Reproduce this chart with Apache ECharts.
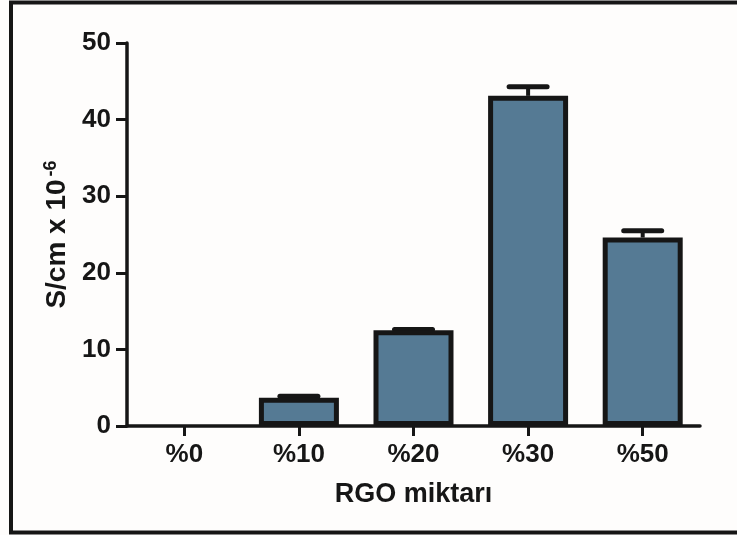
<!DOCTYPE html>
<html>
<head>
<meta charset="utf-8">
<script src="https://cdn.jsdelivr.net/npm/echarts@6/dist/echarts.min.js"></script>
<style>
html,body{margin:0;padding:0;background:#fefdfc;}
#c{width:737px;height:535px;}
</style>
</head>
<body>
<div id="c"></div>
<script>
const categories = ['%0', '%10', '%20', '%30', '%50'];
const values = [0, 3.7, 12.5, 43.1, 24.6];
const upperErr = [0, 3.9, 12.6, 44.3, 25.5];
const yTicks = [0, 10, 20, 30, 40, 50];

const FONT = '"Liberation Sans", Arial, sans-serif';
const INK = '#161616';

const chart = echarts.init(document.getElementById('c'), null, {renderer: 'canvas'});

const option = {
  backgroundColor: '#fefdfc',
  animation: false,
  grid: {left: 127, right: 37, top: 43, bottom: 109},
  graphic: [{
    type: 'rect',
    shape: {x: 11, y: 2.5, width: 740, height: 530},
    style: {fill: 'none', stroke: INK, lineWidth: 4},
    silent: true
  }],
  xAxis: {
    type: 'category',
    data: categories,
    boundaryGap: true,
    name: 'RGO miktarı',
    nameLocation: 'middle',
    nameGap: 55,
    nameTextStyle: {fontFamily: FONT, fontWeight: 'bold', fontSize: 27, color: INK},
    axisLine: {lineStyle: {color: INK, width: 3.5}},
    axisTick: {show: true, alignWithLabel: true, length: 10, lineStyle: {color: INK, width: 3}},
    axisLabel: {fontFamily: FONT, fontWeight: 'bold', fontSize: 26, color: INK, margin: 16}
  },
  yAxis: {
    type: 'value',
    min: yTicks[0],
    max: yTicks[yTicks.length - 1],
    interval: 10,
    name: 'S/cm x 10{sup|-6}',
    nameLocation: 'middle',
    nameRotate: 90,
    nameGap: 54,
    nameTextStyle: {
      fontFamily: FONT, fontWeight: 'bold', fontSize: 28, color: INK,
      rich: {sup: {fontFamily: FONT, fontWeight: 'bold', fontSize: 18, color: INK, verticalAlign: 'top', padding: [0, 0, 12, 3]}}
    },
    axisLine: {show: true, lineStyle: {color: INK, width: 3.5}},
    axisTick: {show: true, length: 11, lineStyle: {color: INK, width: 3}},
    splitLine: {show: false},
    axisLabel: {fontFamily: FONT, fontWeight: 'bold', fontSize: 26, color: INK, margin: 16}
  },
  series: [{
    type: 'bar',
    data: values.map(v => v === 0 ? {value: v, itemStyle: {borderWidth: 0}} : v),
    barWidth: 80,
    itemStyle: {color: '#557a94', borderColor: INK, borderWidth: 5},
    z: 3
  }, {
    type: 'custom',
    z: 2,
    data: categories.map((c, i) => [i, values[i], upperErr[i]]),
    renderItem: function (params, api) {
      const i = api.value(0);
      const v = api.value(1);
      const u = api.value(2);
      if (u <= v) return null;
      const p0 = api.coord([i, v]);
      const p1 = api.coord([i, u]);
      const half = 19;
      return {
        type: 'group',
        children: [{
          type: 'line',
          shape: {x1: p0[0], y1: p0[1], x2: p1[0], y2: p1[1]},
          style: {stroke: INK, lineWidth: 4}
        }, {
          type: 'line',
          shape: {x1: p1[0] - half, y1: p1[1], x2: p1[0] + half, y2: p1[1]},
          style: {stroke: INK, lineWidth: 5, lineCap: 'round'}
        }]
      };
    }
  }]
};
chart.setOption(option);
</script>
</body>
</html>
